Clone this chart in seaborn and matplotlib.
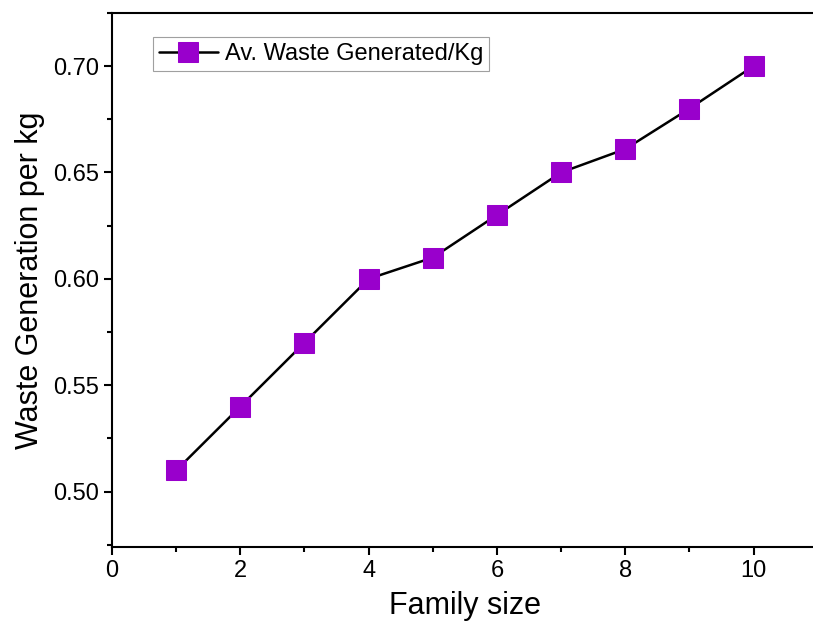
import matplotlib
matplotlib.use("Agg")
import matplotlib.pyplot as plt
import seaborn as sns
import pandas as pd
from matplotlib.ticker import MultipleLocator, FormatStrFormatter

# data
family_size = [1, 2, 3, 4, 5, 6, 7, 8, 9, 10]
waste_per_kg = [0.51, 0.54, 0.57, 0.60, 0.61, 0.63, 0.65, 0.661, 0.68, 0.70]
series_label = "Av. Waste Generated/Kg"

df = pd.DataFrame({"Family size": family_size, "Waste": waste_per_kg})

sns.set_style("ticks")
plt.rcParams["font.family"] = ["Liberation Sans", "DejaVu Sans"]
plt.rcParams["text.color"] = "black"
plt.rcParams["axes.labelcolor"] = "black"
plt.rcParams["xtick.color"] = "black"
plt.rcParams["ytick.color"] = "black"

fig = plt.figure(figsize=(8.13, 6.24), dpi=100)
# right edge of the axes sits just past the figure edge, as in the reference
ax = fig.add_axes([0.1378, 0.1234, 0.868, 0.856])

sns.lineplot(data=df, x="Family size", y="Waste", ax=ax, color="black",
             linewidth=1.8, marker="s", markersize=14, markerfacecolor="#9900cc",
             markeredgecolor="#9900cc", label=series_label)

ax.set_xlim(0, 11)
ax.set_ylim(0.474, 0.725)
ax.xaxis.set_major_locator(MultipleLocator(2))
ax.xaxis.set_minor_locator(MultipleLocator(1))
ax.yaxis.set_major_locator(MultipleLocator(0.05))
ax.yaxis.set_minor_locator(MultipleLocator(0.025))
ax.yaxis.set_major_formatter(FormatStrFormatter("%.2f"))
ax.xaxis.set_major_formatter(FormatStrFormatter("%d"))
ax.tick_params(which="major", length=6, width=1.5, labelsize=17, direction="out")
ax.tick_params(which="minor", length=3.5, width=1.5, direction="out")
for s in ax.spines.values():
    s.set_linewidth(1.5)
    s.set_color("black")

ax.set_xlabel("Family size", fontsize=22, labelpad=6)
ax.set_ylabel("Waste Generation per kg", fontsize=22, labelpad=6)

leg = ax.legend(loc="upper left", bbox_to_anchor=(0.058, 0.955), fontsize=17,
                frameon=True, fancybox=False, handlelength=2.5, borderpad=0.25,
                handletextpad=0.3, borderaxespad=0)
leg.get_frame().set_edgecolor("#888888")
leg.get_frame().set_linewidth(0.8)

fig.savefig("out.png", dpi=100)
